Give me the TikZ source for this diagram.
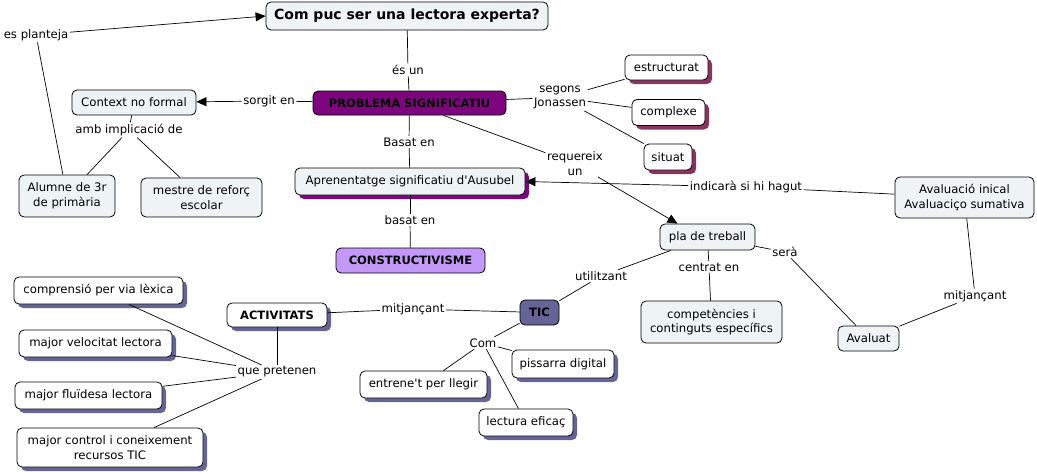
\documentclass[tikz,border=0pt]{standalone}
\usepackage{fontspec}
\setmainfont{DejaVu Sans}[Ligatures=TeXOff]
\usetikzlibrary{arrows.meta,shadows}

\definecolor{cmapfill}{RGB}{238,244,246}
\definecolor{probpurple}{RGB}{125,5,125}
\definecolor{constrlila}{RGB}{196,152,248}
\definecolor{maroonsh}{RGB}{140,50,95}
\definecolor{slatesh}{RGB}{100,100,150}

\tikzset{
  concept/.style={draw, line width=0.8pt, rounded corners=5pt, fill=cmapfill,
    align=center, inner sep=2pt, font=\fontsize{11.7}{14.5}\selectfont},
  boldconcept/.style={concept, font=\fontsize{11.5}{14}\selectfont\bfseries},
  linkword/.style={inner sep=1.5pt, align=center, font=\fontsize{11.7}{14.5}\selectfont},
  conn/.style={line width=0.7pt},
  arr/.style={conn, -{Triangle[length=10pt,width=9pt]}},
  purpsh/.style={general shadow={fill=probpurple, shadow xshift=4pt, shadow yshift=-4pt}},
  maroonbox/.style={fill=white, general shadow={fill=maroonsh, shadow xshift=4pt, shadow yshift=-4pt}},
  slatebox/.style={fill=white, general shadow={fill=slatesh, shadow xshift=4pt, shadow yshift=-4pt}}
}

\begin{document}
\begin{tikzpicture}[x=1pt, y=-1pt]
  \useasboundingbox (0,0) rectangle (1037,474);

  % concepts
  \node[concept, minimum width=282pt, minimum height=28pt, font=\fontsize{14}{16}\selectfont\bfseries] (q) at (407,16) {Com puc ser una lectora experta?};
  \node[boldconcept, fill=probpurple, minimum width=193pt, minimum height=24pt] (ps) at (409.5,103) {PROBLEMA SIGNIFICATIU};
  \node[concept, minimum width=124pt, minimum height=25pt] (ctx) at (134,102.5) {Context no formal};
  \node[concept, minimum width=96pt, minimum height=42pt] (alumne) at (67,196) {Alumne de 3r\\de primària};
  \node[concept, minimum width=121pt, minimum height=39pt] (mestre) at (201.5,197.5) {mestre de reforç\\escolar};
  \node[concept, purpsh, minimum width=230pt, minimum height=27pt] (apren) at (410,181.5) {Aprenentatge significatiu d'Ausubel};
  \node[boldconcept, fill=constrlila, minimum width=149pt, minimum height=25pt] (constr) at (410.5,260.5) {CONSTRUCTIVISME};
  \node[concept, maroonbox, minimum width=83pt, minimum height=25pt] (estr) at (666.5,67.5) {estructurat};
  \node[concept, maroonbox, minimum width=73pt, minimum height=26pt] (compl) at (668.5,112.5) {complexe};
  \node[concept, maroonbox, minimum width=48pt, minimum height=26pt] (situat) at (668,157) {situat};
  \node[concept, minimum width=95pt, minimum height=26pt] (pla) at (707.5,237) {pla de treball};
  \node[concept, minimum width=139pt, minimum height=41pt] (aval) at (964.5,197.5) {Avaluació inical\\Avaluaciço sumativa};
  \node[concept, minimum width=141pt, minimum height=42pt] (compet) at (711.5,322) {competències i\\continguts específics};
  \node[concept, minimum width=61pt, minimum height=25pt] (avaluat) at (868.5,338.5) {Avaluat};
  \node[boldconcept, fill=slatesh, minimum width=39pt, minimum height=25pt] (tic) at (539.5,312.5) {TIC};
  \node[boldconcept, slatebox, minimum width=100pt, minimum height=24pt] (activ) at (277,315) {ACTIVITATS};
  \node[concept, slatebox, minimum width=169pt, minimum height=27pt] (compr) at (98.5,290.5) {comprensió per via lèxica};
  \node[concept, slatebox, minimum width=153pt, minimum height=27pt] (veloc) at (95.5,343.5) {major velocitat lectora};
  \node[concept, slatebox, minimum width=147pt, minimum height=27pt] (fluid) at (88.5,395.5) {major fluïdesa lectora};
  \node[concept, slatebox, minimum width=186pt, minimum height=39pt] (control) at (110,447.5) {major control i coneixement\\recursos TIC};
  \node[concept, slatebox, minimum width=102pt, minimum height=28pt] (piss) at (563,364) {pissarra digital};
  \node[concept, slatebox, minimum width=127pt, minimum height=27pt] (entr) at (423.5,384.5) {entrene't per llegir};
  \node[concept, slatebox, minimum width=94pt, minimum height=27pt] (lect) at (526,422.5) {lectura eficaç};

  % linking phrases
  \node[linkword] (planteja) at (36,35) {es planteja};
  \node[linkword] (esun) at (408,70) {és un};
  \node[linkword] (sorgit) at (269,101) {sorgit en};
  \node[linkword] (segons) at (560,97.5) {segons\\Jonassen};
  \node[linkword] (basat1) at (409,142) {Basat en};
  \node[linkword] (amb) at (129,130) {amb implicació de};
  \node[linkword] (req) at (575,163.5) {requereix\\un};
  \node[linkword] (basat2) at (410,220) {basat en};
  \node[linkword] (indic) at (746,187) {indicarà si hi hagut};
  \node[linkword] (sera) at (785,252) {serà};
  \node[linkword] (centrat) at (709,267) {centrat en};
  \node[linkword] (util) at (601,276) {utilitzant};
  \node[linkword] (mitj1) at (975,296) {mitjançant};
  \node[linkword] (mitj2) at (413,309) {mitjançant};
  \node[linkword] (pret) at (277,372) {que pretenen};
  \node[linkword] (com) at (483,343) {Com};

  % connectors
  \draw[conn] (alumne) -- (planteja);
  \draw[arr] (planteja) -- (q.west);
  \draw[conn] (q) -- (esun);
  \draw[conn] (esun) -- (ps);
  \draw[conn] (ps) -- (sorgit);
  \draw[arr] (sorgit) -- (ctx);
  \draw[conn] (ctx) -- (amb);
  \draw[conn] (amb) -- (alumne);
  \draw[conn] (amb) -- (mestre);
  \draw[conn] (ps) -- (segons);
  \draw[conn] (segons) -- (estr);
  \draw[conn] (segons) -- (compl);
  \draw[conn] (segons) -- (situat);
  \draw[conn] (ps) -- (basat1);
  \draw[conn] (basat1) -- (apren);
  \draw[conn] (ps) -- (req);
  \draw[arr] (req) -- ([xshift=-30pt]pla.north);
  \draw[conn] (apren) -- (basat2);
  \draw[conn] (basat2) -- (constr);
  \draw[conn] (aval) -- (indic);
  \draw[arr] (indic) -- (apren.east);
  \draw[conn] (pla) -- (sera);
  \draw[conn] (sera) -- (avaluat);
  \draw[conn] (pla) -- (centrat);
  \draw[conn] (centrat) -- (compet);
  \draw[conn] (pla) -- (util);
  \draw[conn] (util) -- (tic);
  \draw[conn] (aval) -- (mitj1);
  \draw[conn] (mitj1) -- (avaluat);
  \draw[conn] (tic) -- (mitj2);
  \draw[conn] (mitj2) -- (activ);
  \draw[conn] (activ) -- (pret);
  \draw[conn] (pret) -- (compr);
  \draw[conn] (pret) -- (veloc);
  \draw[conn] (pret) -- (fluid);
  \draw[conn] (pret) -- (control);
  \draw[conn] (tic) -- (com);
  \draw[conn] (com) -- (piss);
  \draw[conn] (com) -- (entr);
  \draw[conn] (com) -- (lect);
\end{tikzpicture}
\end{document}
